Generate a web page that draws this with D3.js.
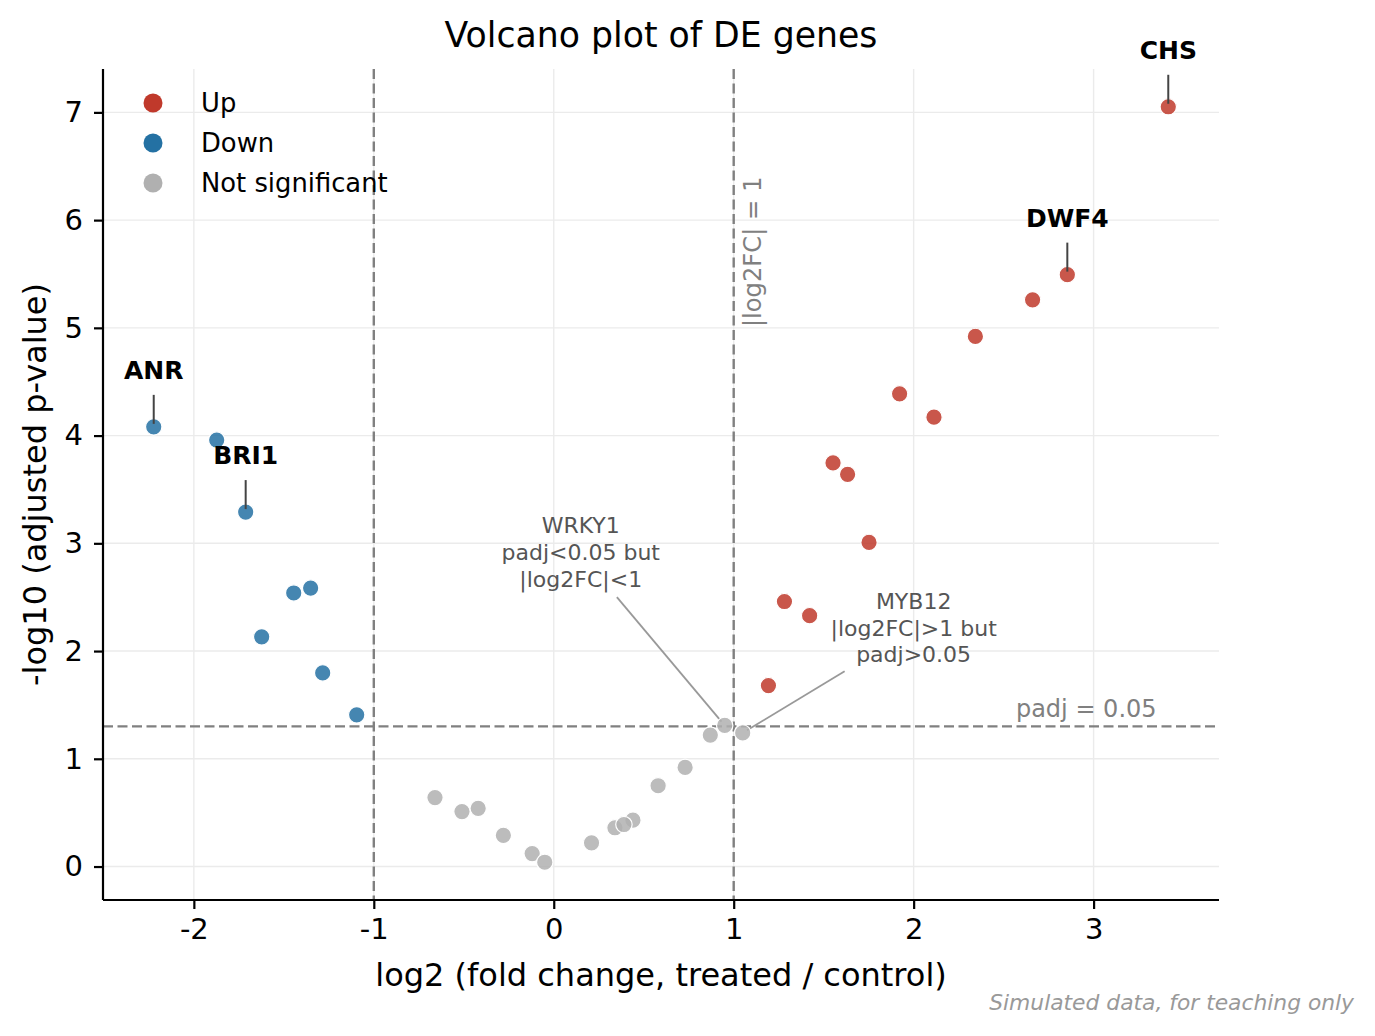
<!DOCTYPE html>
<html>
<head>
<meta charset="utf-8">
<title>Volcano plot of DE genes</title>
<style>
  body { margin: 0; background: #fff; }
  svg text { font-family: "DejaVu Sans", sans-serif; }
</style>
</head>
<body>
<script src="https://cdn.jsdelivr.net/npm/d3@7"></script>
<script>
// ---- data ----
const upX = [3.415, 2.854, 2.661, 2.343, 1.922, 2.113, 1.552, 1.633, 1.752, 1.282, 1.422, 1.193];
const upY = [7.052, 5.494, 5.260, 4.920, 4.388, 4.171, 3.746, 3.640, 3.008, 2.460, 2.328, 1.680];

const downX = [-2.223, -1.873, -1.712, -1.445, -1.351, -1.623, -1.284, -1.095];
const downY = [4.081, 3.959, 3.290, 2.539, 2.585, 2.132, 1.797, 1.408];

const nsX = [-0.66, -0.51, -0.42, -0.28, -0.12, -0.05, 0.21, 0.34, 0.44, 0.39, 0.58, 0.73, 0.87, 0.95, 1.05];
const nsY = [0.64, 0.51, 0.54, 0.29, 0.12, 0.04, 0.22, 0.36, 0.43, 0.39, 0.75, 0.92, 1.22, 1.31, 1.24];

// bold gene callouts
const calloutNames = ["CHS", "DWF4", "ANR", "BRI1"];
const calloutX = [3.415, 2.854, -2.223, -1.712];
const calloutY = [7.052, 5.494, 4.081, 3.290];

// borderline genes with explanatory notes
const noteX = [0.95, 1.05];
const noteY = [1.31, 1.24];
const noteTextX = [0.15, 2.0];
const noteTextY = [2.9, 2.2];
const noteLines = [["WRKY1", "padj<0.05 but", "|log2FC|<1"],
                   ["MYB12", "|log2FC|>1 but", "padj>0.05"]];

const xTicks = [-2, -1, 0, 1, 2, 3];
const yTicks = [0, 1, 2, 3, 4, 5, 6, 7];
const fcCut = 1;
const padjCut = 0.05;

const groups = ["Up", "Down", "Not significant"];
const colors = { "Up": "#c0392b", "Down": "#2471a3", "Not significant": "#b0b0b0" };

// ---- layout ----
const W = 1375, H = 1036;
const margin = { top: 69, right: 156, bottom: 136, left: 103 };
const width = W - margin.left - margin.right;
const height = H - margin.top - margin.bottom;

const svg = d3.select("body").append("svg")
  .attr("width", W).attr("height", H);

const g = svg.append("g")
  .attr("transform", `translate(${margin.left},${margin.top})`);

// matplotlib-like 5% autoscale margins
const allX = upX.concat(downX, nsX);
const allY = upY.concat(downY, nsY);
const [x0, x1] = d3.extent(allX);
const [y0, y1] = d3.extent(allY);
const px = (x1 - x0) * 0.05, py = (y1 - y0) * 0.05;

const x = d3.scaleLinear().domain([x0 - px, x1 + px]).range([0, width]);
const y = d3.scaleLinear().domain([y0 - py, y1 + py]).range([height, 0]);

// grid
g.append("g").selectAll("line").data(xTicks).join("line")
  .attr("x1", d => x(d)).attr("x2", d => x(d))
  .attr("y1", 0).attr("y2", height)
  .attr("stroke", "#ebebeb").attr("stroke-width", 1.4);
g.append("g").selectAll("line").data(yTicks).join("line")
  .attr("x1", 0).attr("x2", width)
  .attr("y1", d => y(d)).attr("y2", d => y(d))
  .attr("stroke", "#ebebeb").attr("stroke-width", 1.4);

// threshold lines
const yCut = -Math.log10(padjCut);
[-fcCut, fcCut].forEach(v => {
  g.append("line")
    .attr("x1", x(v)).attr("x2", x(v)).attr("y1", 0).attr("y2", height)
    .attr("stroke", "#808080").attr("stroke-width", 2.4)
    .attr("stroke-dasharray", "10,4.5");
});
g.append("line")
  .attr("x1", 0).attr("x2", width).attr("y1", y(yCut)).attr("y2", y(yCut))
  .attr("stroke", "#808080").attr("stroke-width", 2.4)
  .attr("stroke-dasharray", "10,4.5");

g.append("text")
  .attr("transform", `translate(${x(fcCut) + 27},${y(5.1) + 10}) rotate(-90)`)
  .attr("fill", "#808080").attr("font-size", 24.2)
  .text("|log2FC| = 1");
g.append("text")
  .attr("x", x(3.35)).attr("y", y(yCut) - 9)
  .attr("text-anchor", "end")
  .attr("fill", "#808080").attr("font-size", 24)
  .text("padj = 0.05");

// points
function drawGroup(xs, ys, col) {
  g.append("g").selectAll("circle").data(xs.map((v, i) => [v, ys[i]])).join("circle")
    .attr("cx", d => x(d[0])).attr("cy", d => y(d[1]))
    .attr("r", 8.2)
    .attr("fill", col).attr("fill-opacity", 0.85)
    .attr("stroke", "#fff").attr("stroke-width", 1.2);
}
drawGroup(nsX, nsY, colors["Not significant"]);
drawGroup(upX, upY, colors["Up"]);
drawGroup(downX, downY, colors["Down"]);

// callouts for named genes
calloutNames.forEach((name, i) => {
  const cx = x(calloutX[i]), cy = y(calloutY[i]);
  g.append("line")
    .attr("x1", cx).attr("x2", cx)
    .attr("y1", cy - 32).attr("y2", cy - 3)
    .attr("stroke", "#444").attr("stroke-width", 2);
  g.append("text")
    .attr("x", cx).attr("y", cy - 57)
    .attr("dy", "0.36em")
    .attr("text-anchor", "middle")
    .attr("font-size", 25).attr("font-weight", "bold")
    .attr("fill", "#000")
    .text(name);
});

// notes with leader lines
noteLines.forEach((lines, i) => {
  const tx = x(noteTextX[i]), ty = y(noteTextY[i]);
  const ptx = x(noteX[i]), pty = y(noteY[i]);
  const t = g.append("text")
    .attr("text-anchor", "middle")
    .attr("font-size", 22)
    .attr("fill", "#555");
  lines.forEach((s, k) => {
    t.append("tspan").attr("x", tx).attr("y", ty + 6 + (k - 1) * 26.7).text(s);
  });
  const bb = t.node().getBBox();
  const pad = 1;
  const dx = ptx - tx, dy = pty - ty;
  // where the ray from text centre leaves the padded box
  const sx = dx !== 0 ? (bb.width / 2 + pad) / Math.abs(dx) : Infinity;
  const sy = dy !== 0 ? (bb.height / 2 + pad) / Math.abs(dy) : Infinity;
  const s = Math.min(sx, sy);
  const len = Math.hypot(dx, dy);
  const shrinkA = 3 / len, shrinkB = 5 / len;
  g.insert("line", "text")
    .attr("x1", tx + dx * (s + shrinkA)).attr("y1", ty + dy * (s + shrinkA))
    .attr("x2", ptx - dx * shrinkB).attr("y2", pty - dy * shrinkB)
    .attr("stroke", "#999").attr("stroke-width", 1.8);
});

// axes
const xAxis = g.append("g")
  .attr("transform", `translate(0,${height})`)
  .call(d3.axisBottom(x).tickValues(xTicks).tickFormat(d3.format("d")).tickSize(9).tickPadding(9));
const yAxis = g.append("g")
  .call(d3.axisLeft(y).tickValues(yTicks).tickFormat(d3.format("d")).tickSize(9).tickPadding(11));
[xAxis, yAxis].forEach(a => {
  a.select(".domain").attr("stroke", "#000").attr("stroke-width", 2.2);
  a.selectAll(".tick line").attr("stroke", "#000").attr("stroke-width", 2.2);
  a.selectAll(".tick text").attr("font-size", 29).attr("fill", "#000")
    .attr("font-family", "DejaVu Sans");
});
// replace unicode minus with hyphen like the reference
xAxis.selectAll(".tick text").text(d => String(d));
// clip domain path ends (no outer ticks)
xAxis.select(".domain").attr("d", `M0,0H${width}`);
yAxis.select(".domain").attr("d", `M0,0V${height}`);

// axis labels
g.append("text")
  .attr("x", width / 2).attr("y", height + 86)
  .attr("text-anchor", "middle").attr("font-size", 32)
  .text("log2 (fold change, treated / control)");
g.append("text")
  .attr("transform", `translate(${-57},${height / 2}) rotate(-90)`)
  .attr("text-anchor", "middle").attr("font-size", 32)
  .text("-log10 (adjusted p-value)");

// title
svg.append("text")
  .attr("x", margin.left + width / 2).attr("y", 47)
  .attr("text-anchor", "middle").attr("font-size", 34.7)
  .text("Volcano plot of DE genes");

// legend
const leg = g.append("g").attr("transform", `translate(${50},${34})`);
groups.forEach((name, i) => {
  const row = leg.append("g").attr("transform", `translate(0,${i * 40})`);
  row.append("circle").attr("r", 9.5).attr("fill", colors[name]);
  row.append("text").attr("x", 48).attr("dy", "0.36em")
    .attr("font-size", 25.8).attr("fill", "#000").text(name);
});

// footer
svg.append("text")
  .attr("x", 1354).attr("y", 1010)
  .attr("text-anchor", "end").attr("font-size", 21.8)
  .attr("font-style", "italic").attr("fill", "#999")
  .text("Simulated data, for teaching only");
</script>
</body>
</html>
